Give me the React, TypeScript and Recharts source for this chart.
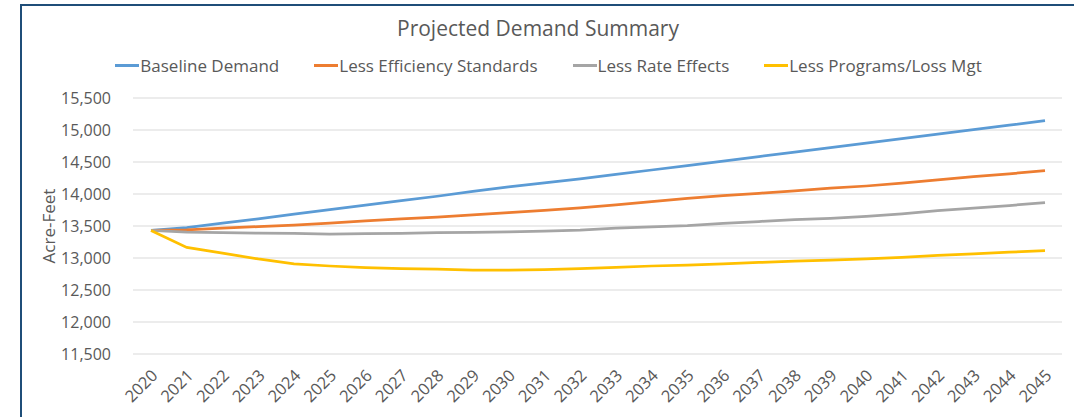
import { LineChart, Line, XAxis, YAxis, CartesianGrid } from "recharts";

const YEARS = [
  "2020", "2021", "2022", "2023", "2024", "2025", "2026", "2027", "2028",
  "2029", "2030", "2031", "2032", "2033", "2034", "2035", "2036", "2037",
  "2038", "2039", "2040", "2041", "2042", "2043", "2044", "2045",
];

const BASELINE = [
  13430, 13475, 13545, 13610, 13685, 13755, 13825, 13895, 13965, 14040,
  14110, 14175, 14235, 14305, 14375, 14445, 14515, 14585, 14655, 14725,
  14795, 14865, 14935, 15005, 15075, 15145,
];

const EFFICIENCY = [
  13430, 13440, 13465, 13490, 13515, 13545, 13580, 13610, 13640, 13675,
  13710, 13745, 13785, 13830, 13880, 13930, 13975, 14010, 14050, 14090,
  14125, 14170, 14220, 14270, 14315, 14365,
];

const RATE = [
  13430, 13405, 13395, 13390, 13385, 13375, 13380, 13385, 13395, 13400,
  13410, 13420, 13435, 13465, 13485, 13505, 13540, 13570, 13600, 13620,
  13650, 13690, 13740, 13780, 13820, 13865,
];

const PROGRAMS = [
  13430, 13165, 13075, 12985, 12910, 12875, 12850, 12835, 12825, 12810,
  12810, 12820, 12835, 12855, 12875, 12890, 12910, 12930, 12950, 12965,
  12985, 13010, 13040, 13065, 13090, 13115,
];

const Y_TICKS = [11500, 12000, 12500, 13000, 13500, 14000, 14500, 15000, 15500];

const SERIES = [
  { key: "baseline", name: "Baseline Demand", color: "#5b9bd5", values: BASELINE },
  { key: "efficiency", name: "Less Efficiency Standards", color: "#ed7d31", values: EFFICIENCY },
  { key: "rate", name: "Less Rate Effects", color: "#a5a5a5", values: RATE },
  { key: "programs", name: "Less Programs/Loss Mgt", color: "#ffc000", values: PROGRAMS },
];

const data = YEARS.map((year, i) => {
  const row: Record<string, string | number> = { year };
  SERIES.forEach((s) => {
    row[s.key] = s.values[i];
  });
  return row;
});

const FONT = "'Open Sans', 'Noto Sans', sans-serif";
const TEXT = "#595959";

function YearTick({ x, y, payload }: any) {
  const ax = x + 3;
  const ay = y + 10;
  return (
    <text
      x={ax}
      y={ay}
      transform={`rotate(-45, ${ax}, ${ay})`}
      textAnchor="end"
      dominantBaseline="central"
      fontSize={16.5}
      fill={TEXT}
      fontFamily={FONT}
    >
      {payload.value}
    </text>
  );
}

function AxisTitle({ viewBox }: any) {
  const cx = 48;
  const cy = viewBox.y + viewBox.height / 2;
  return (
    <text
      x={cx}
      y={cy}
      transform={`rotate(-90, ${cx}, ${cy})`}
      textAnchor="middle"
      dominantBaseline="central"
      fontSize={17}
      fill={TEXT}
      fontFamily={FONT}
    >
      Acre-Feet
    </text>
  );
}

export default function App() {
  return (
    <div
      style={{
        position: "absolute",
        left: 0,
        top: 0,
        width: 1074,
        height: 417,
        background: "#fff",
        fontFamily: FONT,
        overflow: "hidden",
      }}
    >
      <div
        style={{
          position: "absolute",
          left: 20,
          top: 4,
          width: 1060,
          height: 420,
          borderLeft: "2px solid #1f4e79",
          borderTop: "2px solid #1f4e79",
        }}
      />
      <div
        style={{
          position: "absolute",
          top: 14,
          left: 0,
          width: 1076,
          textAlign: "center",
          fontSize: 21,
          color: TEXT,
        }}
      >
        Projected Demand Summary
      </div>
      <div
        style={{
          position: "absolute",
          top: 54,
          left: 0,
          width: 1097,
          display: "flex",
          justifyContent: "center",
          gap: 35,
          fontSize: 17,
          color: TEXT,
        }}
      >
        {SERIES.map((s) => (
          <div key={s.key} style={{ display: "flex", alignItems: "center" }}>
            <span
              style={{
                display: "inline-block",
                width: 24,
                height: 3,
                background: s.color,
                marginRight: 1,
              }}
            />
            <span>{s.name}</span>
          </div>
        ))}
      </div>
      <div style={{ position: "absolute", left: 0, top: 0 }}>
        <LineChart
          width={1074}
          height={417}
          data={data}
          margin={{ top: 98, right: 12, bottom: 13, left: 20 }}
        >
          <CartesianGrid vertical={false} stroke="#d9d9d9" strokeWidth={1.2} />
          <XAxis
            dataKey="year"
            interval={0}
            axisLine={false}
            tickLine={false}
            height={50}
            padding={{ left: 18, right: 17 }}
            tick={<YearTick />}
          />
          <YAxis
            width={113}
            domain={[11500, 15500]}
            ticks={Y_TICKS}
            axisLine={false}
            tickLine={false}
            tickMargin={16}
            tickFormatter={(v: number) => v.toLocaleString("en-US")}
            tick={{ fontSize: 16, fill: TEXT, fontFamily: FONT }}
            label={<AxisTitle />}
          />
          {SERIES.map((s) => (
            <Line
              key={s.key}
              type="linear"
              dataKey={s.key}
              name={s.name}
              stroke={s.color}
              strokeWidth={2.75}
              dot={false}
              isAnimationActive={false}
            />
          ))}
        </LineChart>
      </div>
    </div>
  );
}
